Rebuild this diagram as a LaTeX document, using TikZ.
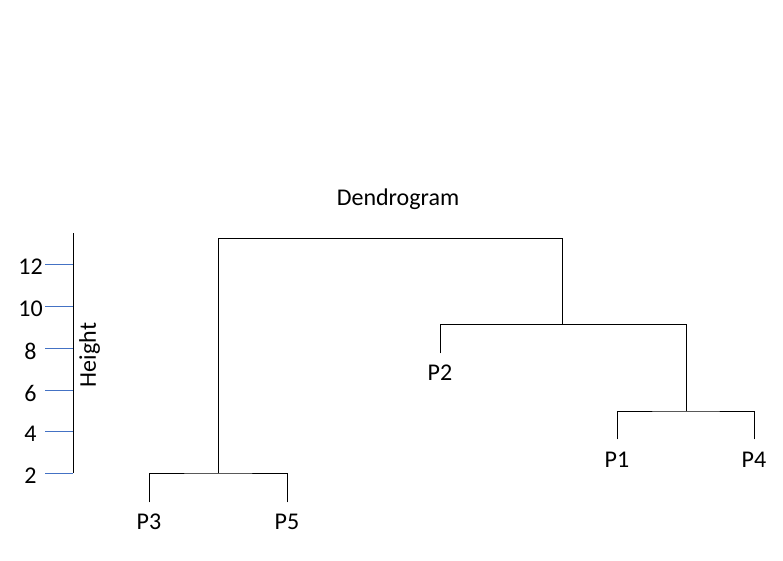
\documentclass[tikz,border=0pt]{standalone}
\usepackage{fontspec}
\setmainfont{Carlito}
\begin{document}
\begin{tikzpicture}[x=1pt,y=-1pt,
  lbl/.style={inner sep=0pt,font=\fontsize{24}{28}\selectfont},
  link/.style={draw=black,line width=0.9pt,line cap=rect},
  tick/.style={draw=tickblue,line width=0.9pt}]
\definecolor{tickblue}{HTML}{4472C4}
\useasboundingbox (0,0) rectangle (783,561);
% axis
\coordinate (ax0) at (73,233);
\coordinate (ax1) at (73,473);
\draw[link,line cap=butt] (ax0) -- (ax1);
\foreach \v/\y in {12/264,10/306,8/348,6/390,4/431,2/473}{
  \coordinate (t\v) at (73,\y);
  \coordinate (ts\v) at (45,\y);
  \draw[tick] (ts\v) -- (t\v);
  \node[lbl] (l\v) at (30.5,\y+3) {\v};
}
\node[lbl,rotate=90] (height) at (89.5,355) {Height};
\node[lbl] (title) at (398,199) {Dendrogram};
% leaves
\node[lbl] (P3) at (149,522) {P3};
\node[lbl] (P5) at (287,522) {P5};
\node[lbl] (P2) at (440,373) {P2};
\node[lbl] (P1) at (617,460) {P1};
\node[lbl] (P4) at (754,460) {P4};
% leaf tops
\coordinate (e3) at (149,502);
\coordinate (e5) at (287,502);
\coordinate (e2) at (440,353);
\coordinate (e1) at (617,439);
\coordinate (e4) at (754,439);
% merges
\coordinate (m14) at (686,411);
\coordinate (m35) at (218,473);
\coordinate (m214) at (562,324);
\coordinate (root) at (390,238);
\draw[link] (e1) |- (m14) -| (e4);
\draw[link] (e3) |- (m35) -| (e5);
\draw[link] (e2) |- (m214);
\draw[link] (m214) -| (m14);
\draw[link] (m35) |- (root);
\draw[link] (root) -| (m214);
\end{tikzpicture}
\end{document}
